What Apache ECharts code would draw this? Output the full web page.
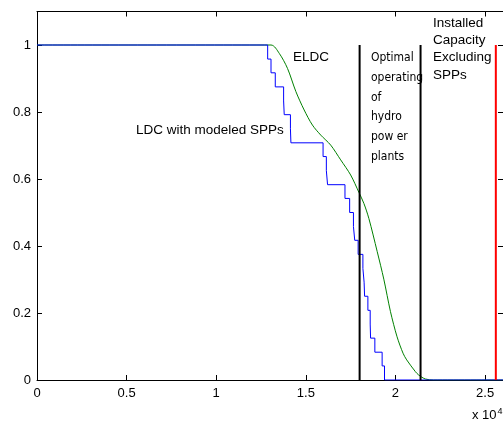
<!DOCTYPE html>
<html>
<head>
<meta charset="utf-8">
<script src="https://cdn.jsdelivr.net/npm/echarts@6/dist/echarts.min.js"></script>
<style>html,body{margin:0;padding:0;background:#fff;}#c{width:503px;height:425px;}</style>
</head>
<body>
<div id="c"></div>
<script>
// ---- data ----
// ELDC (green) curve
const eldcX = [0, 13056, 13517, 13978, 14444, 14906, 15367, 15833, 16389, 16944, 17500, 17961, 18239, 18517, 18978, 19350, 19722, 20089, 20422, 20628, 21111, 21294, 21667, 22128, 26000];
const eldcY = [1, 1, 0.975, 0.930, 0.861, 0.806, 0.761, 0.731, 0.701, 0.657, 0.612, 0.560, 0.527, 0.482, 0.384, 0.301, 0.204, 0.129, 0.080, 0.060, 0.025, 0.015, 0.003, 0, 0];
// LDC with modeled SPPs (blue step curve): x of each drop, level after drop
const ldcX = [0, 12870, 13056, 13294, 13760, 13794, 14140, 14167, 15961, 16144, 16211, 17183, 17444, 17656, 17728, 17917, 18183, 18250, 18278, 18461, 18590, 18611, 18850, 19256, 19389, 26000];
const ldcY = [1, 0.958, 0.917, 0.875, 0.833, 0.792, 0.75, 0.708, 0.667, 0.625, 0.583, 0.542, 0.5, 0.458, 0.417, 0.375, 0.333, 0.292, 0.25, 0.208, 0.167, 0.125, 0.083, 0.042, 0, 0];
// vertical boundary lines
const hydroBounds = [18000, 21400];
const installedCapacity = 25600;
const xTickLabels = ['0', '0.5', '1', '1.5', '2', '2.5'];

const zip = (xs, ys) => xs.map((x, i) => [x, ys[i]]);
const FONT = 'Liberation Sans, Arial, Helvetica, sans-serif';

const chart = echarts.init(document.getElementById('c'), null, {renderer: 'canvas'});

const axisCommon = {
  axisLine: {show: true, onZero: false, lineStyle: {color: '#000', width: 1}},
  axisTick: {show: true, inside: true, length: 5, lineStyle: {color: '#000', width: 1}},
  splitLine: {show: false}
};

const series = [
  {type: 'line', name: 'ELDC', data: zip(eldcX, eldcY), showSymbol: false, symbol: 'none',
   smooth: 0.3,
   lineStyle: {color: '#008000', width: 1}, z: 2, animation: false},
  {type: 'line', name: 'LDC', data: zip(ldcX, ldcY), step: 'end', showSymbol: false, symbol: 'none',
   lineStyle: {color: '#0000ff', width: 1}, z: 3, animation: false}
];
hydroBounds.forEach(v => series.push({
  type: 'line', data: [[v, 0], [v, 1]], showSymbol: false, symbol: 'none',
  lineStyle: {color: '#000', width: 2}, z: 4, animation: false
}));
series.push({
  type: 'line', data: [[installedCapacity, 0], [installedCapacity, 1]], showSymbol: false, symbol: 'none',
  lineStyle: {color: '#ff0000', width: 2}, z: 5, animation: false
});

chart.setOption({
  animation: false,
  backgroundColor: '#fff',
  grid: {left: 37, top: 11.5, width: 468, height: 368.5, containLabel: false},
  xAxis: [
    Object.assign({type: 'value', position: 'bottom', min: 0, max: 26000, interval: 5000,
      axisLabel: {color: '#000', fontFamily: FONT, fontSize: 13, margin: 7, showMaxLabel: false,
        formatter: v => { const i = Math.round(v / 5000); return (v % 5000 === 0 && i < xTickLabels.length) ? xTickLabels[i] : ''; }}
    }, axisCommon),
    Object.assign({type: 'value', position: 'top', min: 0, max: 26000, interval: 5000,
      axisLabel: {show: false}}, axisCommon)
  ],
  yAxis: [
    Object.assign({type: 'value', position: 'left', min: 0, max: 1.1, interval: 0.2,
      axisLabel: {color: '#000', fontFamily: FONT, fontSize: 13, margin: 6, showMaxLabel: false,
        formatter: v => (v > 1.05 ? '' : String(+v.toFixed(1)))}
    }, axisCommon),
    Object.assign({type: 'value', position: 'right', min: 0, max: 1.1, interval: 0.2,
      axisLabel: {show: false}}, axisCommon)
  ],
  series: series,
  graphic: [
    {type: 'text', left: 293, top: 50, silent: true,
     style: {text: 'ELDC', fill: '#000', font: '13.5px ' + FONT}},
    {type: 'text', left: 136, top: 123, silent: true,
     style: {text: 'LDC with modeled SPPs', fill: '#000', font: '13.5px ' + FONT}},
    {type: 'text', left: 371, top: 48, silent: true,
     style: {text: 'Optimal\noperating\nof\nhydro\npow er\nplants', fill: '#000',
       font: '12px "Liberation Sans Narrow", "DejaVu Sans Condensed", sans-serif', lineHeight: 19.8}},
    {type: 'text', left: 433, top: 14.5, silent: true,
     style: {text: 'Installed\nCapacity\nExcluding\nSPPs', fill: '#000', font: '13.5px ' + FONT, lineHeight: 17.3}},
    {type: 'text', left: 472, top: 407, silent: true,
     style: {text: 'x 10{s|4}', fill: '#000', font: '13px ' + FONT,
       rich: {s: {fontSize: 9, fontFamily: FONT, fill: '#000', verticalAlign: 'top', padding: [0, 0, 8, 1]}}}}
  ]
});
</script>
</body>
</html>
